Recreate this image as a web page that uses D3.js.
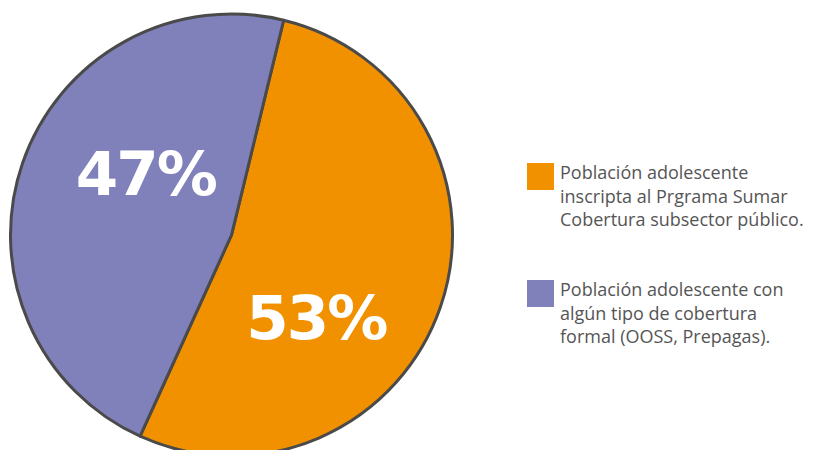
<!DOCTYPE html>
<html>
<head>
<meta charset="utf-8">
<script src="https://cdn.jsdelivr.net/npm/d3@7"></script>
<style>
  html, body { margin: 0; padding: 0; background: #fff; }
  svg { display: block; }
</style>
</head>
<body>
<div id="chart"></div>
<script>
// data
const categories = [
  "Población adolescente inscripta al Prgrama Sumar Cobertura subsector público.",
  "Población adolescente con algún tipo de cobertura formal (OOSS, Prepagas)."
]
const legendLines = [
  ["Población adolescente", "inscripta al Prgrama Sumar", "Cobertura subsector público."],
  ["Población adolescente con", "algún tipo de cobertura", "formal (OOSS, Prepagas)."]
]
const values = [53, 47]
const colors = ["#F29100", "#8080BB"]

const width = 815, height = 450
const cx = 231.5, cy = 235, radius = 221

const svg = d3.select("#chart").append("svg")
  .attr("width", width)
  .attr("height", height)

const pie = d3.pie()
  .sort(null)
  .value((d) => d)
  .startAngle(0.238)
  .endAngle(0.238 + 2 * Math.PI)

const arcs = pie(values)
const arc = d3.arc().innerRadius(0).outerRadius(radius)

const g = svg.append("g").attr("transform", `translate(${cx},${cy})`)

g.selectAll("path")
  .data(arcs)
  .join("path")
  .attr("d", arc)
  .attr("fill", (d, i) => colors[i])
  .attr("stroke", "#4a4a4a")
  .attr("stroke-width", 3)
  .attr("stroke-linejoin", "round")

// labels: placed a bit away from the centroid, like the original
const labelPolar = [
  { r: 118, a: 134 },
  { r: 106, a: 306 }
]
g.selectAll("text.pct")
  .data(arcs)
  .join("text")
  .attr("class", "pct")
  .attr("x", (d, i) => labelPolar[i].r * Math.sin(labelPolar[i].a * Math.PI / 180))
  .attr("y", (d, i) => -labelPolar[i].r * Math.cos(labelPolar[i].a * Math.PI / 180))
  .attr("dy", "0.36em")
  .attr("text-anchor", "middle")
  .attr("fill", "#fff")
  .style("font-family", "'DejaVu Sans', sans-serif")
  .style("font-weight", "bold")
  .style("font-size", "61px")
  .style("letter-spacing", "-2px")
  .text((d) => d.data + "%")

// legend
const legend = svg.append("g").selectAll("g")
  .data(categories)
  .join("g")
  .attr("transform", (d, i) => `translate(527,${163 + i * 117})`)

legend.append("rect")
  .attr("width", 27)
  .attr("height", 27)
  .attr("fill", (d, i) => colors[i])

legend.append("text")
  .attr("x", 33)
  .attr("y", 16)
  .attr("fill", "#555")
  .style("font-family", "'Open Sans', sans-serif")
  .style("font-size", "18px")
  .selectAll("tspan")
  .data((d, i) => legendLines[i])
  .join("tspan")
  .attr("x", 33)
  .attr("dy", (d, j) => j === 0 ? 0 : 23.5)
  .text((d) => d)
</script>
</body>
</html>
